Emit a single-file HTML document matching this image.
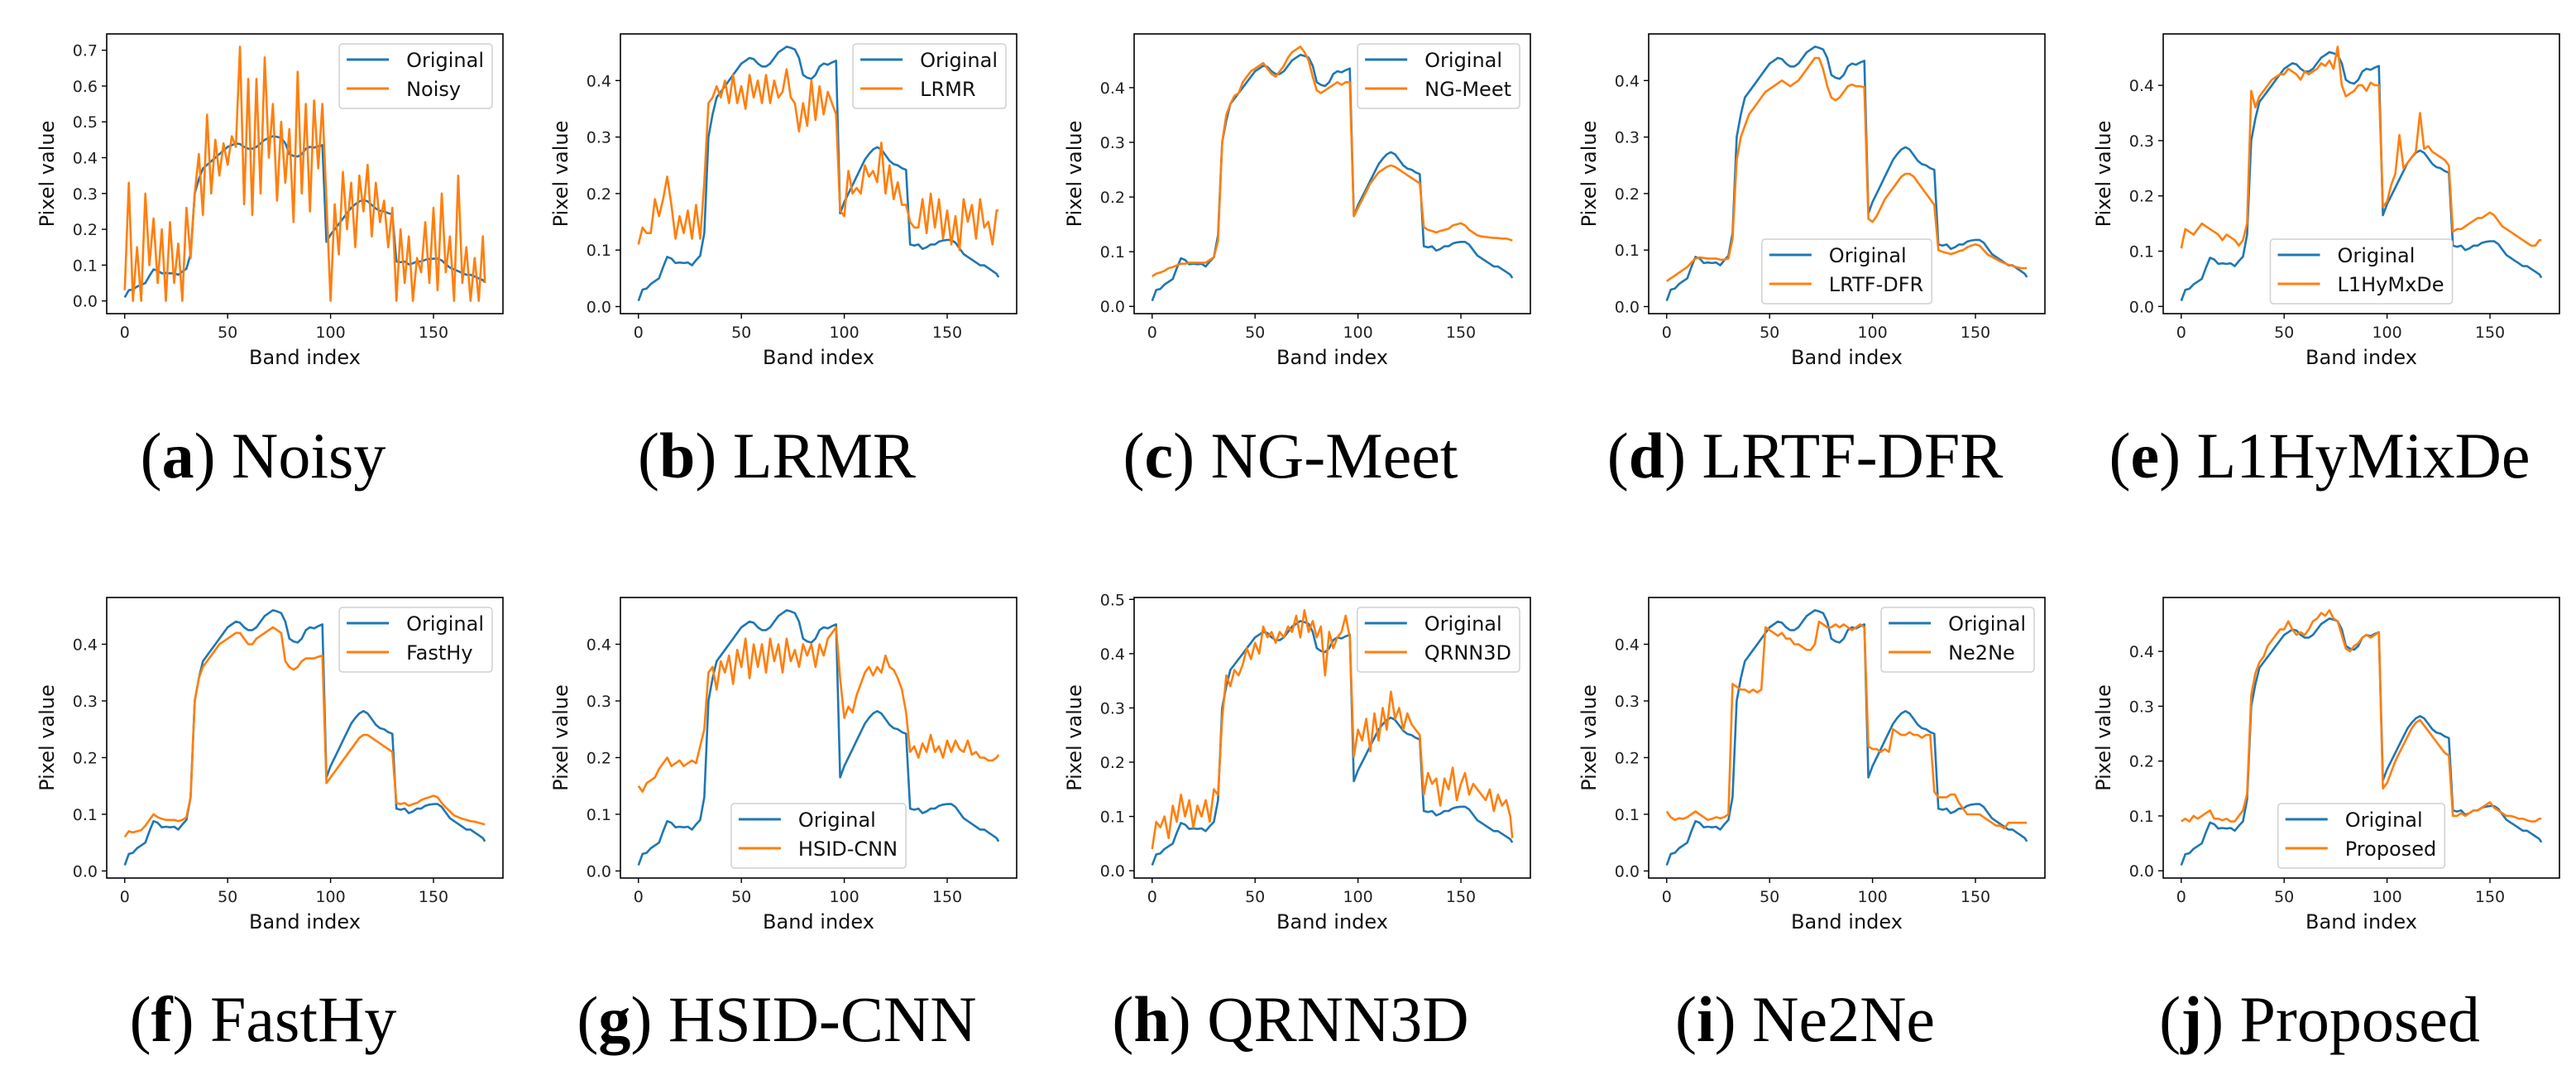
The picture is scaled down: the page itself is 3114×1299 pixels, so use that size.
<!DOCTYPE html>
<html><head><meta charset="utf-8"><style>
html,body{margin:0;padding:0;background:#fff;}
svg{display:block;}
</style></head><body>
<svg id="fig" width="3114" height="1299" xmlns="http://www.w3.org/2000/svg"></svg>
<script>
const bands = [];
for (let b = 0; b <= 174; b += 2) bands.push(b);
bands.push(175);

const original = [0.01,0.03,0.032,0.04,0.045,0.05,0.07,0.088,0.085,0.077,
0.078,0.077,0.078,0.073,0.082,0.09,0.13,0.3,0.34,0.37,
0.38,0.39,0.40,0.41,0.42,0.43,0.435,0.44,0.438,0.43,
0.425,0.425,0.43,0.44,0.45,0.455,0.46,0.458,0.455,0.44,
0.41,0.405,0.403,0.41,0.425,0.43,0.428,0.432,0.435,0.165,
0.185,0.2,0.215,0.23,0.245,0.26,0.27,0.278,0.282,0.278,
0.268,0.258,0.252,0.25,0.245,0.242,0.11,0.108,0.11,0.102,
0.105,0.11,0.11,0.115,0.117,0.118,0.118,0.113,0.103,0.093,
0.088,0.083,0.078,0.073,0.073,0.068,0.063,0.058,0.052];

const noisy = [0.03,0.33,0.0,0.15,0.0,0.3,0.1,0.23,0.05,0.2,
0.0,0.22,0.05,0.16,0.0,0.26,0.12,0.3,0.41,0.24,
0.52,0.3,0.45,0.35,0.44,0.38,0.46,0.43,0.71,0.27,
0.62,0.24,0.62,0.3,0.68,0.4,0.55,0.28,0.5,0.33,
0.48,0.22,0.64,0.3,0.55,0.25,0.56,0.37,0.55,0.28,
0.0,0.27,0.13,0.36,0.2,0.33,0.15,0.35,0.25,0.38,
0.18,0.33,0.22,0.28,0.15,0.26,0.0,0.2,0.05,0.18,
0.0,0.12,0.08,0.22,0.05,0.26,0.03,0.3,0.08,0.18,
0.0,0.35,0.05,0.15,0.0,0.12,0.0,0.18,0.05];

const lrmr = [0.11,0.14,0.13,0.13,0.19,0.16,0.19,0.23,0.18,0.12,
0.16,0.13,0.17,0.12,0.18,0.12,0.22,0.36,0.37,0.39,
0.37,0.40,0.36,0.41,0.36,0.39,0.35,0.41,0.37,0.40,
0.36,0.41,0.36,0.40,0.37,0.38,0.42,0.37,0.36,0.31,
0.36,0.32,0.40,0.33,0.39,0.34,0.38,0.36,0.34,0.17,
0.16,0.24,0.20,0.21,0.20,0.25,0.23,0.24,0.22,0.29,
0.20,0.25,0.19,0.22,0.18,0.18,0.15,0.14,0.14,0.19,
0.13,0.20,0.14,0.19,0.12,0.17,0.11,0.16,0.10,0.19,
0.15,0.18,0.12,0.19,0.14,0.15,0.11,0.17,0.17];

const ngmeet = [0.055,0.06,0.062,0.065,0.07,0.072,0.075,0.078,0.078,0.08,
0.08,0.08,0.08,0.08,0.085,0.09,0.12,0.3,0.35,0.37,
0.385,0.39,0.41,0.42,0.43,0.435,0.44,0.445,0.435,0.425,
0.42,0.43,0.44,0.455,0.465,0.47,0.475,0.465,0.45,0.42,
0.395,0.39,0.395,0.4,0.405,0.41,0.405,0.41,0.41,0.165,
0.18,0.195,0.21,0.225,0.235,0.245,0.25,0.255,0.258,0.255,
0.25,0.245,0.24,0.235,0.23,0.225,0.145,0.14,0.138,0.135,
0.138,0.14,0.142,0.148,0.15,0.152,0.148,0.14,0.135,0.13,
0.128,0.127,0.126,0.125,0.125,0.124,0.124,0.122,0.12];

const lrtfdfr = [0.045,0.05,0.055,0.06,0.065,0.07,0.078,0.085,0.087,0.086,
0.085,0.085,0.085,0.083,0.083,0.085,0.12,0.26,0.3,0.32,
0.34,0.35,0.36,0.37,0.38,0.385,0.39,0.395,0.4,0.395,
0.39,0.395,0.40,0.41,0.42,0.43,0.44,0.44,0.42,0.39,
0.37,0.365,0.37,0.38,0.39,0.393,0.39,0.39,0.388,0.155,
0.15,0.16,0.175,0.19,0.2,0.21,0.22,0.23,0.235,0.235,
0.23,0.22,0.21,0.2,0.19,0.18,0.1,0.097,0.095,0.093,
0.095,0.098,0.1,0.105,0.108,0.11,0.108,0.1,0.092,0.088,
0.084,0.08,0.077,0.074,0.072,0.07,0.068,0.068,0.068];

const l1hymixde = [0.105,0.14,0.135,0.13,0.14,0.15,0.145,0.14,0.135,0.13,
0.12,0.13,0.125,0.12,0.11,0.12,0.15,0.39,0.36,0.38,
0.39,0.40,0.41,0.415,0.42,0.42,0.43,0.425,0.42,0.41,
0.425,0.42,0.425,0.43,0.44,0.435,0.445,0.43,0.47,0.40,
0.38,0.385,0.39,0.40,0.40,0.39,0.405,0.40,0.40,0.18,
0.19,0.22,0.24,0.31,0.25,0.26,0.27,0.28,0.35,0.285,
0.29,0.28,0.275,0.27,0.265,0.255,0.135,0.14,0.14,0.145,
0.15,0.155,0.16,0.16,0.165,0.17,0.165,0.155,0.145,0.14,
0.135,0.13,0.125,0.12,0.115,0.11,0.11,0.12,0.12];

const fasthy = [0.06,0.07,0.068,0.07,0.072,0.08,0.09,0.1,0.095,0.092,
0.09,0.09,0.09,0.088,0.09,0.095,0.13,0.3,0.34,0.36,
0.37,0.38,0.39,0.40,0.405,0.41,0.415,0.42,0.42,0.41,
0.40,0.40,0.41,0.415,0.42,0.425,0.43,0.425,0.42,0.37,
0.36,0.355,0.36,0.37,0.375,0.375,0.375,0.378,0.38,0.155,
0.165,0.175,0.185,0.195,0.205,0.215,0.225,0.235,0.24,0.24,
0.235,0.23,0.225,0.22,0.215,0.21,0.12,0.118,0.12,0.115,
0.118,0.12,0.125,0.128,0.13,0.133,0.13,0.12,0.112,0.105,
0.098,0.095,0.092,0.09,0.088,0.087,0.085,0.083,0.082];

const hsidcnn = [0.15,0.14,0.155,0.16,0.165,0.18,0.19,0.2,0.185,0.19,
0.195,0.185,0.19,0.195,0.19,0.22,0.25,0.35,0.36,0.32,
0.37,0.35,0.38,0.33,0.39,0.36,0.41,0.34,0.40,0.36,
0.40,0.35,0.41,0.37,0.40,0.35,0.41,0.37,0.39,0.36,
0.40,0.38,0.40,0.36,0.40,0.38,0.41,0.42,0.43,0.34,
0.27,0.29,0.28,0.31,0.33,0.35,0.36,0.345,0.36,0.35,
0.38,0.36,0.355,0.34,0.32,0.28,0.21,0.22,0.20,0.225,
0.21,0.24,0.21,0.22,0.20,0.23,0.21,0.23,0.215,0.21,
0.23,0.205,0.21,0.2,0.2,0.195,0.195,0.2,0.205];

const qrnn3d = [0.04,0.09,0.08,0.1,0.06,0.12,0.09,0.14,0.1,0.13,
0.08,0.12,0.1,0.13,0.09,0.15,0.14,0.28,0.36,0.34,
0.37,0.36,0.38,0.41,0.39,0.42,0.4,0.45,0.43,0.44,
0.42,0.44,0.43,0.45,0.44,0.47,0.43,0.48,0.44,0.46,
0.43,0.45,0.36,0.44,0.41,0.43,0.44,0.47,0.43,0.21,
0.26,0.24,0.28,0.22,0.29,0.24,0.3,0.26,0.33,0.28,
0.3,0.26,0.29,0.27,0.26,0.25,0.14,0.18,0.16,0.17,
0.12,0.17,0.15,0.19,0.13,0.16,0.18,0.14,0.16,0.15,
0.14,0.13,0.15,0.11,0.14,0.12,0.13,0.1,0.06];

const ne2ne = [0.105,0.095,0.09,0.093,0.092,0.095,0.1,0.105,0.1,0.095,
0.09,0.092,0.095,0.093,0.095,0.1,0.33,0.325,0.32,0.32,
0.315,0.32,0.315,0.32,0.43,0.425,0.42,0.415,0.42,0.41,
0.41,0.40,0.40,0.395,0.39,0.39,0.40,0.44,0.435,0.43,
0.43,0.435,0.43,0.435,0.43,0.425,0.43,0.435,0.43,0.22,
0.215,0.215,0.21,0.215,0.21,0.25,0.245,0.24,0.24,0.245,
0.24,0.24,0.235,0.24,0.24,0.14,0.13,0.13,0.13,0.135,
0.135,0.12,0.11,0.1,0.1,0.1,0.1,0.095,0.09,0.085,
0.08,0.08,0.075,0.085,0.085,0.085,0.085,0.085,0.085];

const proposed = [0.09,0.095,0.09,0.1,0.095,0.1,0.105,0.11,0.095,0.095,
0.092,0.095,0.09,0.09,0.1,0.11,0.14,0.32,0.36,0.38,
0.39,0.41,0.42,0.43,0.44,0.44,0.455,0.44,0.43,0.435,
0.43,0.44,0.455,0.46,0.47,0.465,0.475,0.46,0.455,0.43,
0.405,0.4,0.41,0.415,0.425,0.43,0.425,0.43,0.435,0.15,
0.16,0.18,0.2,0.215,0.23,0.245,0.26,0.27,0.275,0.265,
0.255,0.245,0.235,0.225,0.215,0.21,0.1,0.1,0.105,0.1,
0.105,0.11,0.11,0.115,0.12,0.125,0.115,0.11,0.105,0.1,
0.1,0.098,0.095,0.095,0.092,0.09,0.09,0.095,0.095];

const methodNames = ["Noisy","LRMR","NG-Meet","LRTF-DFR","L1HyMxDe","FastHy","HSID-CNN","QRNN3D","Ne2Ne","Proposed"];
const captionNames = ["Noisy","LRMR","NG-Meet","LRTF-DFR","L1HyMixDe","FastHy","HSID-CNN","QRNN3D","Ne2Ne","Proposed"];
const captionLetters = ["a","b","c","d","e","f","g","h","i","j"];
const methodSeries = [noisy,lrmr,ngmeet,lrtfdfr,l1hymixde,fasthy,hsidcnn,qrnn3d,ne2ne,proposed];
const legendLower = [false,false,false,true,true,false,true,false,false,true];
const xTicks = [0,50,100,150];

const NS = "http://www.w3.org/2000/svg";
const svg = document.getElementById("fig");
function mk(tag, attrs, parent) {
  const e = document.createElementNS(NS, tag);
  for (const k in attrs) e.setAttribute(k, attrs[k]);
  (parent || svg).appendChild(e);
  return e;
}
const lefts = [129,750,1371,1993,2615];
const W = 479;
const tops = [41,722], bottoms = [379,1061];
const FONT = "'DejaVu Sans', 'Liberation Sans', sans-serif";

methodSeries.forEach((ser, idx) => {
  const row = Math.floor(idx / 5), col = idx % 5;
  const L = lefts[col], T = tops[row], B = bottoms[row], R = L + W;
  const g = mk("g", {});
  
  
  const xmin = -8.75, xmax = 183.75;
  const all = original.concat(ser);
  const dmin = Math.min(...all), dmax = Math.max(...all);
  const pad = (dmax - dmin) * 0.05;
  const ymin = dmin - pad, ymax = dmax + pad;
  const X = v => L + (v - xmin) / (xmax - xmin) * W;
  const Y = v => B - (v - ymin) / (ymax - ymin) * (B - T);

  const clipId = "clip" + idx;
  const cp = mk("clipPath", {id: clipId}, g);
  mk("rect", {x: L, y: T, width: W, height: B - T}, cp);

  // y ticks
  for (let t = Math.ceil(ymin * 10 - 1e-9); t / 10 <= ymax + 1e-9; t++) {
    const v = t / 10, y = Y(v);
    const tk = mk("line", {x1: L - 6, x2: L, y1: y, y2: y, stroke: "#000", "stroke-width": 1.4}, g);
    
    
    const tl = mk("text", {x: L - 11, y: y + 7, "text-anchor": "end", "font-size": 19, "font-family": FONT, fill: "#222"}, g);
    
    
    tl.textContent = v.toFixed(1);
  }
  xTicks.forEach(v => {
    const x = X(v);
    const tk = mk("line", {x1: x, x2: x, y1: B, y2: B + 6, stroke: "#000", "stroke-width": 1.4}, g);
    
    
    const tl = mk("text", {x: x, y: B + 29, "text-anchor": "middle", "font-size": 19, "font-family": FONT, fill: "#222"}, g);
    
    
    tl.textContent = v;
  });
  const xl = mk("text", {x: (L + R) / 2, y: B + 61, "text-anchor": "middle", "font-size": 24, "font-family": FONT, fill: "#111"}, g);
  
  
  xl.textContent = "Band index";
  const yc = (T + B) / 2, yx = L - 72;
  const yl = mk("text", {x: yx, y: yc + 8, "text-anchor": "middle", "font-size": 24, "font-family": FONT, fill: "#111", transform: `rotate(-90 ${yx} ${yc})`}, g);
  
  
  yl.textContent = "Pixel value";

  function line(arr, color, name) {
    const d = arr.map((v, i) => (i ? "L" : "M") + X(bands[i]).toFixed(1) + "," + Y(v).toFixed(1)).join("");
    const p = mk("path", {d: d, fill: "none", stroke: color, "stroke-width": 2.6, "stroke-linejoin": "round", "clip-path": `url(#${clipId})`}, g);
    
    
  }
  line(original, "#1f77b4", "original-line");
  line(ser, "#ff7f0e", "method-line");

  const fr = mk("rect", {x: L, y: T, width: W, height: B - T, fill: "none", stroke: "#000", "stroke-width": 1.6}, g);
  
  

  // legend
  const lg = mk("g", {}, g);
  
  
  const box = mk("rect", {rx: 4, fill: "#fff", "fill-opacity": 0.85, stroke: "#d0d0d0", "stroke-width": 1.5}, lg);
  const labels = ["Original", methodNames[idx]];
  const colors = ["#1f77b4", "#ff7f0e"];
  const texts = [], hs = [];
  labels.forEach((lab, k) => {
    const h = mk("line", {"stroke-width": 3, stroke: colors[k]}, lg);
    
    
    const t = mk("text", {"font-size": 24, "font-family": FONT, fill: "#111"}, lg);
    
    
    t.textContent = lab;
    texts.push(t); hs.push(h);
  });
  const tw = Math.max(...texts.map(t => t.getComputedTextLength()));
  const bw = 9 + 51 + 21 + tw + 10, bh = 78;
  const bx = legendLower[idx] ? (L + R) / 2 - bw / 2 : R - 13 - bw;
  const by = legendLower[idx] ? B - 12 - bh : T + 12;
  box.setAttribute("x", bx); box.setAttribute("y", by);
  box.setAttribute("width", bw); box.setAttribute("height", bh);
  [19, 54].forEach((off, k) => {
    hs[k].setAttribute("x1", bx + 9); hs[k].setAttribute("x2", bx + 60);
    hs[k].setAttribute("y1", by + off); hs[k].setAttribute("y2", by + off);
    texts[k].setAttribute("x", bx + 81); texts[k].setAttribute("y", by + off + 9);
  });

  // caption
  const cap = mk("text", {x: L + 189, y: row === 0 ? 577 : 1258, "text-anchor": "middle", "font-size": 78, "font-family": "'Liberation Serif', serif", fill: "#000"}, svg);
  
  
  const s1 = mk("tspan", {}, cap); s1.textContent = "(";
  const s2 = mk("tspan", {"font-weight": "bold"}, cap); s2.textContent = captionLetters[idx];
  const s3 = mk("tspan", {}, cap); s3.textContent = ") " + captionNames[idx];
});
</script>
</body></html>
